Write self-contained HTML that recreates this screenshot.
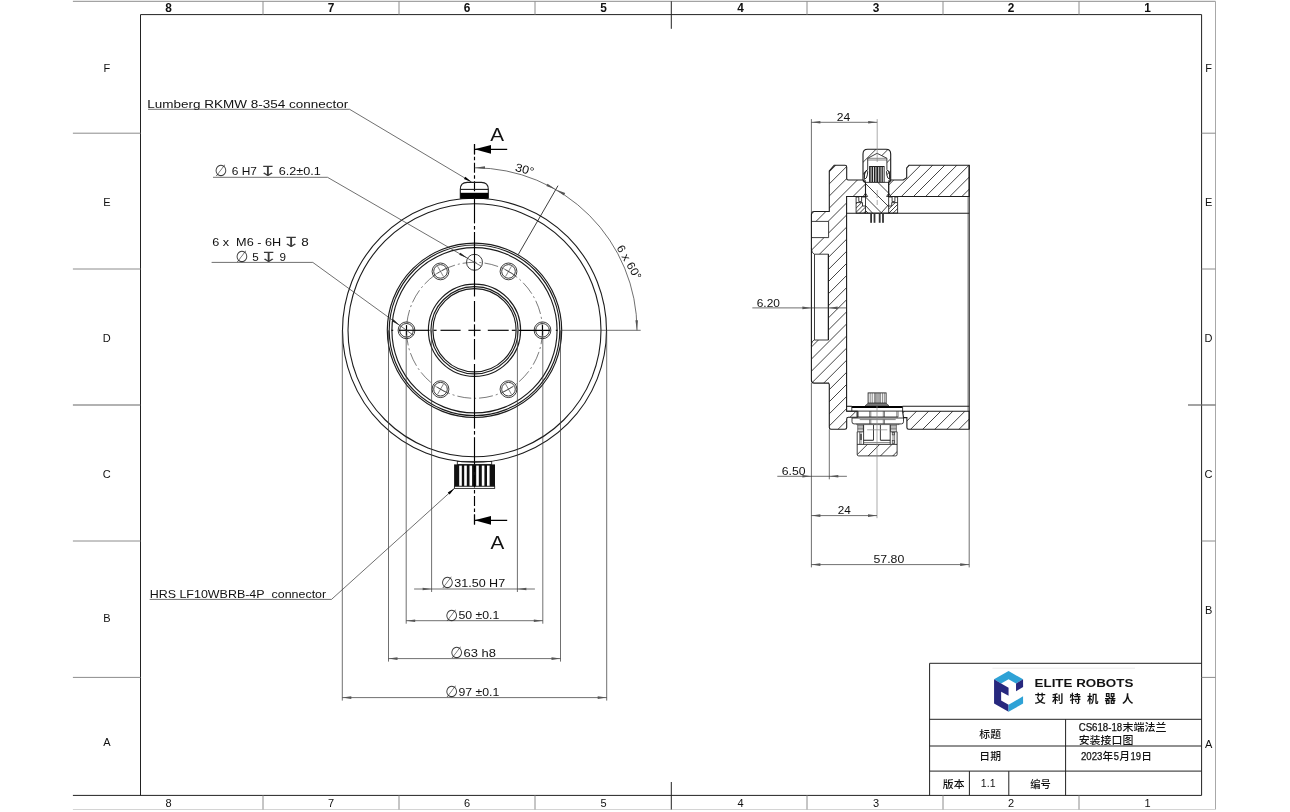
<!DOCTYPE html>
<html><head><meta charset="utf-8"><title>CS618-18 flange interface drawing</title>
<style>
html,body{margin:0;padding:0;background:#fff;}
svg{display:block;will-change:transform}
.v{stroke:#1c1c1c;stroke-width:1.1;fill:none}
.v8{stroke:#1c1c1c;stroke-width:.85;fill:none}
.t{stroke:#333;stroke-width:.6;fill:none}
.d{stroke:#383838;stroke-width:.72;fill:none}
.c{stroke:#000;stroke-width:1.15;fill:none}
.cl{stroke:#222;stroke-width:.6;fill:none}
.g{stroke:#8c8c8c;stroke-width:1;fill:none}
.gr{stroke:#a8a8a8;stroke-width:1;fill:none}
.g2{stroke:#666;stroke-width:1.2;fill:none}
.gl{stroke:#d4d4d4;stroke-width:1;fill:none}
.f{stroke:#222;stroke-width:1;fill:none}
.h{stroke:#222;stroke-width:.85;fill:none}
.gd{stroke:#888;stroke-width:.7;fill:none}
.vl{stroke:#e6e6e6;stroke-width:.8;fill:none}
.ah{fill:#555;stroke:none}
.ahd{fill:#222;stroke:none}
.vr{stroke:#1c1c1c;stroke-width:1.15;fill:none}
.ahk{fill:#000;stroke:none}
.tx{font-family:"Liberation Sans","DejaVu Sans","Noto Sans CJK SC",sans-serif;fill:#111}
.txb{font-family:"Liberation Sans","DejaVu Sans","Noto Sans CJK SC",sans-serif;fill:#111;font-weight:bold}
.sym{font-family:"DejaVu Sans","Liberation Sans",sans-serif;fill:#3a3a3a}
.cj{font-family:"Liberation Sans","Noto Sans CJK SC",sans-serif;fill:#111;font-weight:500}
</style></head>
<body>
<svg width="1290" height="812" viewBox="0 0 1290 812">
<rect width="1290" height="812" fill="#fff"/>
<line class="g" x1="72.90" y1="1.30" x2="1215.50" y2="1.30" />
<line class="gr" x1="1215.50" y1="1.30" x2="1215.50" y2="809.50" />
<line class="gl" x1="72.90" y1="809.50" x2="1215.50" y2="809.50" />
<line class="f" x1="140.50" y1="14.60" x2="1201.60" y2="14.60" />
<line class="f" x1="140.50" y1="14.60" x2="140.50" y2="795.40" />
<line class="f" x1="1201.60" y1="14.60" x2="1201.60" y2="795.40" />
<line class="f" x1="72.90" y1="795.40" x2="1201.60" y2="795.40" />
<line class="g" x1="263.00" y1="1.30" x2="263.00" y2="14.60" />
<line class="g" x1="263.00" y1="795.40" x2="263.00" y2="809.50" />
<line class="g" x1="399.00" y1="1.30" x2="399.00" y2="14.60" />
<line class="g" x1="399.00" y1="795.40" x2="399.00" y2="809.50" />
<line class="g" x1="535.00" y1="1.30" x2="535.00" y2="14.60" />
<line class="g" x1="535.00" y1="795.40" x2="535.00" y2="809.50" />
<line class="g" x1="807.00" y1="1.30" x2="807.00" y2="14.60" />
<line class="g" x1="807.00" y1="795.40" x2="807.00" y2="809.50" />
<line class="g" x1="943.00" y1="1.30" x2="943.00" y2="14.60" />
<line class="g" x1="943.00" y1="795.40" x2="943.00" y2="809.50" />
<line class="g" x1="1079.00" y1="1.30" x2="1079.00" y2="14.60" />
<line class="g" x1="1079.00" y1="795.40" x2="1079.00" y2="809.50" />
<line class="f" x1="671.30" y1="1.30" x2="671.30" y2="28.80" />
<line class="f" x1="671.30" y1="782.00" x2="671.30" y2="809.50" />
<line class="g" x1="72.90" y1="133.20" x2="140.50" y2="133.20" />
<line class="g" x1="1201.60" y1="133.20" x2="1215.50" y2="133.20" />
<line class="g" x1="72.90" y1="269.00" x2="140.50" y2="269.00" />
<line class="g" x1="1201.60" y1="269.00" x2="1215.50" y2="269.00" />
<line class="g" x1="72.90" y1="541.00" x2="140.50" y2="541.00" />
<line class="g" x1="1201.60" y1="541.00" x2="1215.50" y2="541.00" />
<line class="g" x1="72.90" y1="677.40" x2="140.50" y2="677.40" />
<line class="g" x1="1201.60" y1="677.40" x2="1215.50" y2="677.40" />
<line class="g2" x1="72.90" y1="405.00" x2="140.50" y2="405.00" />
<line class="g2" x1="1188.00" y1="405.00" x2="1215.50" y2="405.00" />
<text class="txb" x="165.2" y="11.8" font-size="13" textLength="6.6" lengthAdjust="spacingAndGlyphs">8</text>
<text class="tx" x="168.50" y="807.40" font-size="11" text-anchor="middle" >8</text>
<text class="txb" x="327.7" y="11.8" font-size="13" textLength="6.6" lengthAdjust="spacingAndGlyphs">7</text>
<text class="tx" x="331.00" y="807.40" font-size="11" text-anchor="middle" >7</text>
<text class="txb" x="463.7" y="11.8" font-size="13" textLength="6.6" lengthAdjust="spacingAndGlyphs">6</text>
<text class="tx" x="467.00" y="807.40" font-size="11" text-anchor="middle" >6</text>
<text class="txb" x="600.2" y="11.8" font-size="13" textLength="6.6" lengthAdjust="spacingAndGlyphs">5</text>
<text class="tx" x="603.50" y="807.40" font-size="11" text-anchor="middle" >5</text>
<text class="txb" x="737.2" y="11.8" font-size="13" textLength="6.6" lengthAdjust="spacingAndGlyphs">4</text>
<text class="tx" x="740.50" y="807.40" font-size="11" text-anchor="middle" >4</text>
<text class="txb" x="872.7" y="11.8" font-size="13" textLength="6.6" lengthAdjust="spacingAndGlyphs">3</text>
<text class="tx" x="876.00" y="807.40" font-size="11" text-anchor="middle" >3</text>
<text class="txb" x="1007.7" y="11.8" font-size="13" textLength="6.6" lengthAdjust="spacingAndGlyphs">2</text>
<text class="tx" x="1011.00" y="807.40" font-size="11" text-anchor="middle" >2</text>
<text class="txb" x="1144.2" y="11.8" font-size="13" textLength="6.6" lengthAdjust="spacingAndGlyphs">1</text>
<text class="tx" x="1147.50" y="807.40" font-size="11" text-anchor="middle" >1</text>
<text class="tx" x="106.80" y="72.00" font-size="11" text-anchor="middle" >F</text>
<text class="tx" x="1208.60" y="72.00" font-size="11" text-anchor="middle" >F</text>
<text class="tx" x="106.80" y="206.00" font-size="11" text-anchor="middle" >E</text>
<text class="tx" x="1208.60" y="206.00" font-size="11" text-anchor="middle" >E</text>
<text class="tx" x="106.80" y="342.00" font-size="11" text-anchor="middle" >D</text>
<text class="tx" x="1208.60" y="342.00" font-size="11" text-anchor="middle" >D</text>
<text class="tx" x="106.80" y="478.00" font-size="11" text-anchor="middle" >C</text>
<text class="tx" x="1208.60" y="478.00" font-size="11" text-anchor="middle" >C</text>
<text class="tx" x="106.80" y="622.00" font-size="11" text-anchor="middle" >B</text>
<text class="tx" x="1208.60" y="614.00" font-size="11" text-anchor="middle" >B</text>
<text class="tx" x="106.80" y="746.00" font-size="11" text-anchor="middle" >A</text>
<text class="tx" x="1208.60" y="748.00" font-size="11" text-anchor="middle" >A</text>
<circle class="v" cx="474.50" cy="330.30" r="132.00" />
<circle class="v" cx="474.50" cy="330.30" r="126.50" />
<circle class="vr" cx="474.50" cy="330.30" r="87.20" />
<circle class="vr" cx="474.50" cy="330.30" r="85.30" />
<circle class="vr" cx="474.50" cy="330.30" r="82.60" />
<circle class="vr" cx="474.50" cy="330.30" r="46.10" />
<circle class="vr" cx="474.50" cy="330.30" r="43.60" />
<circle class="vr" cx="474.50" cy="330.30" r="41.60" />
<circle class="cl" cx="474.50" cy="330.30" r="68.00" stroke-dasharray="14 3 2 3"/>
<circle class="v8" cx="542.50" cy="330.30" r="8.40" />
<circle class="v8" cx="542.50" cy="330.30" r="6.80" />
<circle class="v8" cx="508.50" cy="271.41" r="8.40" />
<circle class="v8" cx="508.50" cy="271.41" r="6.80" />
<line class="t" x1="505.50" y1="276.61" x2="511.50" y2="266.21" />
<line class="t" x1="503.30" y1="268.41" x2="513.70" y2="274.41" />
<circle class="v8" cx="440.50" cy="271.41" r="8.40" />
<circle class="v8" cx="440.50" cy="271.41" r="6.80" />
<line class="t" x1="443.50" y1="276.61" x2="437.50" y2="266.21" />
<line class="t" x1="435.30" y1="274.41" x2="445.70" y2="268.41" />
<circle class="v8" cx="406.50" cy="330.30" r="8.40" />
<circle class="v8" cx="406.50" cy="330.30" r="6.80" />
<circle class="v8" cx="440.50" cy="389.19" r="8.40" />
<circle class="v8" cx="440.50" cy="389.19" r="6.80" />
<line class="t" x1="443.50" y1="383.99" x2="437.50" y2="394.39" />
<line class="t" x1="445.70" y1="392.19" x2="435.30" y2="386.19" />
<circle class="v8" cx="508.50" cy="389.19" r="8.40" />
<circle class="v8" cx="508.50" cy="389.19" r="6.80" />
<line class="t" x1="505.50" y1="383.99" x2="511.50" y2="394.39" />
<line class="t" x1="513.70" y1="386.19" x2="503.30" y2="392.19" />
<circle class="v8" cx="474.50" cy="262.30" r="8.00" />
<line class="c" x1="391.50" y1="330.30" x2="393.20" y2="330.30" />
<line class="c" x1="398.70" y1="330.30" x2="429.60" y2="330.30" />
<line class="c" x1="433.50" y1="330.30" x2="436.60" y2="330.30" />
<line class="c" x1="440.50" y1="330.30" x2="460.60" y2="330.30" />
<line class="c" x1="468.40" y1="330.30" x2="480.60" y2="330.30" />
<line class="c" x1="487.80" y1="330.30" x2="508.70" y2="330.30" />
<line class="c" x1="511.80" y1="330.30" x2="515.70" y2="330.30" />
<line class="c" x1="518.80" y1="330.30" x2="550.30" y2="330.30" />
<line class="c" x1="555.80" y1="330.30" x2="557.50" y2="330.30" />
<line class="c" x1="406.50" y1="325.10" x2="406.50" y2="335.50" />
<line class="c" x1="542.50" y1="325.10" x2="542.50" y2="335.50" />
<line class="c" x1="474.50" y1="144.30" x2="474.50" y2="199.00" stroke-dasharray="10 2.5 3.5 2.5"/>
<line class="c" x1="474.50" y1="524.50" x2="474.50" y2="462.00" stroke-dasharray="10 2.5 3.5 2.5"/>
<line class="c" x1="474.50" y1="199.00" x2="474.50" y2="223.40" />
<line class="c" x1="474.50" y1="226.00" x2="474.50" y2="229.50" />
<line class="c" x1="474.50" y1="232.00" x2="474.50" y2="296.50" />
<line class="c" x1="474.50" y1="301.00" x2="474.50" y2="321.70" />
<line class="c" x1="474.50" y1="324.30" x2="474.50" y2="336.30" />
<line class="c" x1="474.50" y1="339.00" x2="474.50" y2="359.60" />
<line class="c" x1="474.50" y1="364.00" x2="474.50" y2="428.60" />
<line class="c" x1="474.50" y1="431.00" x2="474.50" y2="434.60" />
<line class="c" x1="474.50" y1="437.20" x2="474.50" y2="462.00" />
<path class="v" d="M460.3 198.6 V189.4 Q460.3 182.4 467.3 182.4 H481.3 Q488.3 182.4 488.3 189.4 V198.6" />
<line class="v" x1="460.30" y1="189.40" x2="488.30" y2="189.40" />
<rect x="460.3" y="192.8" width="28" height="6" fill="#000"/>
<rect class="v8" x="457.3" y="461.4" width="34.4" height="3" fill="#fff"/>
<rect x="454.1" y="464.4" width="40.9" height="22" fill="#111"/>
<rect x="459.2" y="465.6" width="2.6" height="20.8" fill="#fff"/>
<rect x="464.2" y="465.6" width="2.6" height="20.8" fill="#fff"/>
<rect x="469.5" y="465.6" width="2.6" height="20.8" fill="#fff"/>
<rect x="476.2" y="465.6" width="2.6" height="20.8" fill="#fff"/>
<rect x="481.8" y="465.6" width="2.6" height="20.8" fill="#fff"/>
<rect x="487" y="465.6" width="2.6" height="20.8" fill="#fff"/>
<rect class="v8" x="454.4" y="486.2" width="40.3" height="2.2" fill="#fff"/>
<line class="c" x1="474.50" y1="466.00" x2="474.50" y2="472.00" />
<line class="c" x1="474.50" y1="475.00" x2="474.50" y2="487.00" />
<line class="c" x1="474.50" y1="149.30" x2="507.20" y2="149.30" />
<polygon class="ahk" points="474.50,149.30 491.00,144.90 491.00,153.70"/>
<line class="c" x1="474.50" y1="520.30" x2="507.20" y2="520.30" />
<polygon class="ahk" points="474.50,520.30 491.00,515.90 491.00,524.70"/>
<line class="c" x1="474.50" y1="144.00" x2="474.50" y2="154.50" />
<line class="c" x1="474.50" y1="514.50" x2="474.50" y2="524.50" />
<text class="tx" x="490.30" y="140.80" font-size="19" text-anchor="start" textLength="13.8" lengthAdjust="spacingAndGlyphs" >A</text>
<text class="tx" x="490.50" y="549.00" font-size="19" text-anchor="start" textLength="13.8" lengthAdjust="spacingAndGlyphs" >A</text>
<path class="d" d="M474.50 167.80 A162.5 162.5 0 0 1 637.00 330.30" />
<line class="v8" x1="518.25" y1="254.52" x2="558.00" y2="185.67" />
<line class="d" x1="562.00" y1="330.30" x2="640.70" y2="330.30" />
<polygon class="ah" points="475.00,167.80 484.95,166.15 485.04,168.75"/>
<polygon class="ah" points="555.75,189.57 565.19,193.12 563.97,195.41"/>
<polygon class="ah" points="555.75,189.57 546.31,186.02 547.53,183.73"/>
<polygon class="ah" points="637.00,330.30 635.35,320.35 637.95,320.26"/>
<text class="tx" font-size="11.5" transform="translate(514.6,170.8) rotate(15)" textLength="19" lengthAdjust="spacingAndGlyphs">30°</text>
<text class="tx" font-size="11.5" transform="translate(616.2,247.8) rotate(60)" textLength="38" lengthAdjust="spacingAndGlyphs">6 x 60°</text>
<line class="d" x1="431.60" y1="330.30" x2="431.60" y2="592.00" />
<line class="d" x1="517.40" y1="330.30" x2="517.40" y2="592.00" />
<line class="d" x1="414.10" y1="589.00" x2="534.90" y2="589.00" />
<polygon class="ah" points="431.60,589.00 422.60,590.30 422.60,587.70"/>
<polygon class="ah" points="517.40,589.00 526.40,587.70 526.40,590.30"/>
<text class="sym" transform="translate(441.00,588.00) scale(0.92,1)" font-size="16">∅</text>
<text class="tx" x="454.20" y="586.60" font-size="11" text-anchor="start" textLength="51.0" lengthAdjust="spacingAndGlyphs" >31.50 H7</text>
<line class="d" x1="406.20" y1="330.30" x2="406.20" y2="623.70" />
<line class="d" x1="542.80" y1="330.30" x2="542.80" y2="623.70" />
<line class="d" x1="406.20" y1="620.70" x2="542.80" y2="620.70" />
<polygon class="ah" points="406.20,620.70 415.20,619.40 415.20,622.00"/>
<polygon class="ah" points="542.80,620.70 533.80,622.00 533.80,619.40"/>
<text class="sym" transform="translate(445.20,620.70) scale(0.92,1)" font-size="16">∅</text>
<text class="tx" x="458.40" y="619.30" font-size="11" text-anchor="start" textLength="40.9" lengthAdjust="spacingAndGlyphs" >50 ±0.1</text>
<line class="d" x1="388.50" y1="330.30" x2="388.50" y2="661.60" />
<line class="d" x1="560.50" y1="330.30" x2="560.50" y2="661.60" />
<line class="d" x1="388.50" y1="658.60" x2="560.50" y2="658.60" />
<polygon class="ah" points="388.50,658.60 397.50,657.30 397.50,659.90"/>
<polygon class="ah" points="560.50,658.60 551.50,659.90 551.50,657.30"/>
<text class="sym" transform="translate(450.30,658.00) scale(0.92,1)" font-size="16">∅</text>
<text class="tx" x="463.50" y="656.60" font-size="11" text-anchor="start" textLength="32.4" lengthAdjust="spacingAndGlyphs" >63 h8</text>
<line class="d" x1="342.30" y1="330.30" x2="342.30" y2="700.60" />
<line class="d" x1="606.70" y1="330.30" x2="606.70" y2="700.60" />
<line class="d" x1="342.30" y1="697.60" x2="606.70" y2="697.60" />
<polygon class="ah" points="342.30,697.60 351.30,696.30 351.30,698.90"/>
<polygon class="ah" points="606.70,697.60 597.70,698.90 597.70,696.30"/>
<text class="sym" transform="translate(445.20,697.30) scale(0.92,1)" font-size="16">∅</text>
<text class="tx" x="458.40" y="695.90" font-size="11" text-anchor="start" textLength="40.9" lengthAdjust="spacingAndGlyphs" >97 ±0.1</text>
<text class="tx" x="147.30" y="108.30" font-size="11.5" text-anchor="start" textLength="201.0" lengthAdjust="spacingAndGlyphs" >Lumberg RKMW 8-354 connector</text>
<path class="d" d="M148 109.3 H349.6 L471.5 182" />
<polygon class="ahk" points="471.50,182.00 463.91,179.10 465.35,176.70"/>
<text class="sym" transform="translate(214.60,176.10) scale(0.92,1)" font-size="16">∅</text>
<text class="tx" x="231.70" y="174.70" font-size="11.5" text-anchor="start" textLength="25.2" lengthAdjust="spacingAndGlyphs" >6 H7</text>
<text class="sym" transform="translate(258.40,175.70) scale(1.6,1)" font-size="14">↧</text>
<text class="tx" x="278.70" y="174.70" font-size="11.5" text-anchor="start" textLength="42.1" lengthAdjust="spacingAndGlyphs" >6.2±0.1</text>
<path class="d" d="M213 177.3 H327.5 L481.4 266.3" />
<polygon class="ahd" points="467.60,258.30 459.21,254.83 460.41,252.76"/>
<text class="tx" x="212.20" y="245.60" font-size="11.5" text-anchor="start" textLength="69.0" lengthAdjust="spacingAndGlyphs" >6 x&#160; M6 - 6H</text>
<text class="sym" transform="translate(281.80,246.60) scale(1.6,1)" font-size="14">↧</text>
<text class="tx" x="301.30" y="245.60" font-size="11.5" text-anchor="start" textLength="7.5" lengthAdjust="spacingAndGlyphs" >8</text>
<text class="sym" transform="translate(235.40,262.00) scale(0.92,1)" font-size="16">∅</text>
<text class="tx" x="252.20" y="260.60" font-size="11.5" text-anchor="start" textLength="6.5" lengthAdjust="spacingAndGlyphs" >5</text>
<text class="sym" transform="translate(259.20,261.60) scale(1.6,1)" font-size="14">↧</text>
<text class="tx" x="279.50" y="260.60" font-size="11.5" text-anchor="start" textLength="6.5" lengthAdjust="spacingAndGlyphs" >9</text>
<path class="d" d="M211.6 262.4 H312.8 L413.1 335.1" />
<polygon class="ahd" points="399.90,325.50 391.91,321.19 393.32,319.25"/>
<text class="tx" x="149.70" y="597.60" font-size="11.5" text-anchor="start" textLength="176.5" lengthAdjust="spacingAndGlyphs" >HRS LF10WBRB-4P&#160; connector</text>
<path class="d" d="M149.7 599.4 H331.5 L454.6 488.2" />
<polygon class="ahk" points="454.60,488.20 449.60,494.60 447.73,492.52"/>
<defs>
<clipPath id="cA"><path d="M811.4 214.4 Q811.4 211.5 814.3 211.5 H829.3 V170.9 L834.2 165.3 H845 Q846.7 165.3 846.7 167 V178.5 Q846.7 180 848.2 180 H862.9 L865.5 182.5 V196.5 H846.6 V411.2 H857.2 V417.3 H848.4 Q846.7 417.3 846.7 419 V427.6 Q846.7 429.3 845 429.3 H831 Q829.3 429.3 829.3 427.6 V384.6 L828.6 383.1 H814.3 Q811.4 383.1 811.4 380.2 Z"/></clipPath>
<clipPath id="cB"><path d="M888.7 196.5 V182.5 L890.8 180 H903.3 L906.7 177.8 V168 L909 165.3 H969.2 V196.5 Z"/></clipPath>
<clipPath id="cC"><path d="M902.6 411.2 H969.2 V429.3 H908.6 Q906.9 429.3 906.9 427.6 V417.6 H903.5 Z"/></clipPath>
<clipPath id="cCap"><path d="M863 180 V154 Q863 149.3 867.7 149.3 H886 Q890.7 149.3 890.7 154 V180 H886.9 V158.3 L877.1 153.3 L867.7 158.3 V180 Z"/></clipPath>
<clipPath id="cBody"><rect x="865.5" y="182.3" width="23.2" height="30.8"/></clipPath>
<clipPath id="cFl"><path d="M856.1 202.6 H862.5 V206 H865.5 V213.1 H856.1 Z M888.7 206 H891.7 V202.6 H897.6 V213.1 H888.7 Z"/></clipPath>
<clipPath id="cHb"><rect x="857.2" y="444.4" width="39.9" height="11.5"/></clipPath>
</defs>
<g clip-path="url(#cA)">
<line class="h" x1="808.00" y1="156.80" x2="868.00" y2="96.80" />
<line class="h" x1="808.00" y1="168.90" x2="868.00" y2="108.90" />
<line class="h" x1="808.00" y1="181.00" x2="868.00" y2="121.00" />
<line class="h" x1="808.00" y1="193.10" x2="868.00" y2="133.10" />
<line class="h" x1="808.00" y1="205.20" x2="868.00" y2="145.20" />
<line class="h" x1="808.00" y1="217.30" x2="868.00" y2="157.30" />
<line class="h" x1="808.00" y1="229.40" x2="868.00" y2="169.40" />
<line class="h" x1="808.00" y1="241.50" x2="868.00" y2="181.50" />
<line class="h" x1="808.00" y1="253.60" x2="868.00" y2="193.60" />
<line class="h" x1="808.00" y1="265.70" x2="868.00" y2="205.70" />
<line class="h" x1="808.00" y1="277.80" x2="868.00" y2="217.80" />
<line class="h" x1="808.00" y1="289.90" x2="868.00" y2="229.90" />
<line class="h" x1="808.00" y1="302.00" x2="868.00" y2="242.00" />
<line class="h" x1="808.00" y1="314.10" x2="868.00" y2="254.10" />
<line class="h" x1="808.00" y1="326.20" x2="868.00" y2="266.20" />
<line class="h" x1="808.00" y1="338.30" x2="868.00" y2="278.30" />
<line class="h" x1="808.00" y1="350.40" x2="868.00" y2="290.40" />
<line class="h" x1="808.00" y1="362.50" x2="868.00" y2="302.50" />
<line class="h" x1="808.00" y1="374.60" x2="868.00" y2="314.60" />
<line class="h" x1="808.00" y1="386.70" x2="868.00" y2="326.70" />
<line class="h" x1="808.00" y1="398.80" x2="868.00" y2="338.80" />
<line class="h" x1="808.00" y1="410.90" x2="868.00" y2="350.90" />
<line class="h" x1="808.00" y1="423.00" x2="868.00" y2="363.00" />
<line class="h" x1="808.00" y1="435.10" x2="868.00" y2="375.10" />
<line class="h" x1="808.00" y1="447.20" x2="868.00" y2="387.20" />
<line class="h" x1="808.00" y1="459.30" x2="868.00" y2="399.30" />
<line class="h" x1="808.00" y1="471.40" x2="868.00" y2="411.40" />
<line class="h" x1="808.00" y1="483.50" x2="868.00" y2="423.50" />
<line class="h" x1="808.00" y1="495.60" x2="868.00" y2="435.60" />
</g>
<g clip-path="url(#cB)">
<line class="h" x1="885.00" y1="152.40" x2="972.00" y2="65.40" />
<line class="h" x1="885.00" y1="164.50" x2="972.00" y2="77.50" />
<line class="h" x1="885.00" y1="176.60" x2="972.00" y2="89.60" />
<line class="h" x1="885.00" y1="188.70" x2="972.00" y2="101.70" />
<line class="h" x1="885.00" y1="200.80" x2="972.00" y2="113.80" />
<line class="h" x1="885.00" y1="212.90" x2="972.00" y2="125.90" />
<line class="h" x1="885.00" y1="225.00" x2="972.00" y2="138.00" />
<line class="h" x1="885.00" y1="237.10" x2="972.00" y2="150.10" />
<line class="h" x1="885.00" y1="249.20" x2="972.00" y2="162.20" />
<line class="h" x1="885.00" y1="261.30" x2="972.00" y2="174.30" />
<line class="h" x1="885.00" y1="273.40" x2="972.00" y2="186.40" />
<line class="h" x1="885.00" y1="285.50" x2="972.00" y2="198.50" />
<line class="h" x1="885.00" y1="297.60" x2="972.00" y2="210.60" />
</g>
<g clip-path="url(#cC)">
<line class="h" x1="900.00" y1="403.60" x2="972.00" y2="331.60" />
<line class="h" x1="900.00" y1="415.70" x2="972.00" y2="343.70" />
<line class="h" x1="900.00" y1="427.80" x2="972.00" y2="355.80" />
<line class="h" x1="900.00" y1="439.90" x2="972.00" y2="367.90" />
<line class="h" x1="900.00" y1="452.00" x2="972.00" y2="380.00" />
<line class="h" x1="900.00" y1="464.10" x2="972.00" y2="392.10" />
<line class="h" x1="900.00" y1="476.20" x2="972.00" y2="404.20" />
<line class="h" x1="900.00" y1="488.30" x2="972.00" y2="416.30" />
<line class="h" x1="900.00" y1="500.40" x2="972.00" y2="428.40" />
<line class="h" x1="900.00" y1="512.50" x2="972.00" y2="440.50" />
</g>
<path d="M811.4 248.6 Q811.6 253.4 814.4 254.2 H828.5 V340 H814.4 Q811.6 340.8 811.4 345.6 Z" fill="#fff" stroke="none"/>
<rect x="811.4" y="221.4" width="17.2" height="16.2" fill="#fff"/>
<path class="v" d="M811.4 214.4 Q811.4 211.5 814.3 211.5 H829.3 V170.9 L834.2 165.3 H845 Q846.7 165.3 846.7 167 V178.5 Q846.7 180 848.2 180 H862.9 L865.5 182.5 V196.5 H846.6 V411.2 H857.2 V417.3 H848.4 Q846.7 417.3 846.7 419 V427.6 Q846.7 429.3 845 429.3 H831 Q829.3 429.3 829.3 427.6 V384.6 L828.6 383.1 H814.3 Q811.4 383.1 811.4 380.2 Z" />
<path class="v" d="M888.7 196.5 V182.5 L890.8 180 H903.3 L906.7 177.8 V168 L909 165.3 H969.2 V196.5 Z" />
<path class="v" d="M902.6 411.2 H969.2 V429.3 H908.6 Q906.9 429.3 906.9 427.6 V417.6 H903.5 Z" />
<path class="v8" d="M811.4 248.6 Q811.6 253.4 814.4 254.2 H828.5 V340 H814.4 Q811.6 340.8 811.4 345.6" />
<line class="v8" x1="814.50" y1="254.20" x2="814.50" y2="340.00" />
<line class="v" x1="828.30" y1="254.20" x2="828.30" y2="340.00" />
<path class="v8" d="M811.4 221.4 H828.6 V237.6 H811.4" />
<line class="v" x1="846.60" y1="213.30" x2="969.20" y2="213.30" />
<line class="v" x1="846.60" y1="406.30" x2="851.80" y2="406.30" />
<line class="v" x1="902.60" y1="406.30" x2="969.20" y2="406.30" />
<line class="v8" x1="846.60" y1="196.50" x2="856.00" y2="196.50" />
<line class="v" x1="969.20" y1="165.30" x2="969.20" y2="429.30" />
<line class="t" x1="968.00" y1="196.50" x2="968.00" y2="411.20" />
<g clip-path="url(#cCap)">
<line class="h" x1="860.00" y1="141.10" x2="893.00" y2="108.10" />
<line class="h" x1="860.00" y1="153.20" x2="893.00" y2="120.20" />
<line class="h" x1="860.00" y1="165.30" x2="893.00" y2="132.30" />
<line class="h" x1="860.00" y1="177.40" x2="893.00" y2="144.40" />
<line class="h" x1="860.00" y1="189.50" x2="893.00" y2="156.50" />
<line class="h" x1="860.00" y1="201.60" x2="893.00" y2="168.60" />
<line class="h" x1="860.00" y1="213.70" x2="893.00" y2="180.70" />
<line class="h" x1="860.00" y1="225.80" x2="893.00" y2="192.80" />
</g>
<path class="v" d="M863 180 V154 Q863 149.3 867.7 149.3 H886 Q890.7 149.3 890.7 154 V180" />
<path class="v8" d="M867.7 169.5 V158.3 L877.1 153.3 L886.9 158.3 V169.5" />
<line class="t" x1="867.70" y1="158.30" x2="886.90" y2="158.30" />
<line class="t" x1="867.70" y1="160.00" x2="886.90" y2="160.00" />
<path class="v8" d="M867.7 169.5 L864.4 172.3 V179.5 M886.9 169.5 L889.6 172.3 V179.5" />
<ellipse class="v8" cx="866" cy="174.6" rx="1.4" ry="4.3" transform="rotate(12 866 174.6)"/>
<ellipse class="v8" cx="888.2" cy="174.6" rx="1.4" ry="4.3" transform="rotate(-12 888.2 174.6)"/>
<circle class="v8" cx="864.3" cy="181" r="1.1"/><circle class="v8" cx="889.8" cy="181" r="1.1"/>
<rect x="869.1" y="166" width="15.5" height="16.3" fill="#222"/>
<rect x="870.6" y="167" width="1.0" height="15" fill="#ddd"/>
<rect x="873.0" y="167" width="1.0" height="15" fill="#ddd"/>
<rect x="875.4" y="167" width="1.0" height="15" fill="#ddd"/>
<rect x="878.2" y="167" width="1.0" height="15" fill="#ddd"/>
<rect x="880.6" y="167" width="1.0" height="15" fill="#ddd"/>
<rect x="882.8" y="167" width="1.0" height="15" fill="#ddd"/>
<g clip-path="url(#cBody)">
<line class="h" x1="862.00" y1="220.50" x2="892.00" y2="250.50" />
<line class="h" x1="862.00" y1="207.00" x2="892.00" y2="237.00" />
<line class="h" x1="862.00" y1="193.50" x2="892.00" y2="223.50" />
<line class="h" x1="862.00" y1="180.00" x2="892.00" y2="210.00" />
<line class="h" x1="862.00" y1="166.50" x2="892.00" y2="196.50" />
<line class="h" x1="862.00" y1="153.00" x2="892.00" y2="183.00" />
<line class="h" x1="862.00" y1="139.50" x2="892.00" y2="169.50" />
</g>
<rect class="v8" x="865.5" y="182.3" width="23.2" height="30.8"/>
<path class="h" d="M865.5 205.5 L872.5 213.1 M888.7 204.5 L881 213.1" />
<path class="v8" d="M863.2 180 L865.5 182.5 M890.7 180 L888.7 182.5" />
<path class="v8" d="M865.5 193.2 L863.2 196.5 H867.6 Z M888.7 193.2 L886.6 196.5 H891 Z" fill="#fff"/>
<g clip-path="url(#cFl)">
<line class="h" x1="854.00" y1="197.60" x2="900.00" y2="151.60" />
<line class="h" x1="854.00" y1="201.80" x2="900.00" y2="155.80" />
<line class="h" x1="854.00" y1="206.00" x2="900.00" y2="160.00" />
<line class="h" x1="854.00" y1="210.20" x2="900.00" y2="164.20" />
<line class="h" x1="854.00" y1="214.40" x2="900.00" y2="168.40" />
<line class="h" x1="854.00" y1="218.60" x2="900.00" y2="172.60" />
<line class="h" x1="854.00" y1="222.80" x2="900.00" y2="176.80" />
<line class="h" x1="854.00" y1="227.00" x2="900.00" y2="181.00" />
<line class="h" x1="854.00" y1="231.20" x2="900.00" y2="185.20" />
<line class="h" x1="854.00" y1="235.40" x2="900.00" y2="189.40" />
<line class="h" x1="854.00" y1="239.60" x2="900.00" y2="193.60" />
<line class="h" x1="854.00" y1="243.80" x2="900.00" y2="197.80" />
<line class="h" x1="854.00" y1="248.00" x2="900.00" y2="202.00" />
<line class="h" x1="854.00" y1="252.20" x2="900.00" y2="206.20" />
<line class="h" x1="854.00" y1="256.40" x2="900.00" y2="210.40" />
<line class="h" x1="854.00" y1="260.60" x2="900.00" y2="214.60" />
<line class="h" x1="854.00" y1="264.80" x2="900.00" y2="218.80" />
</g>
<path class="v8" d="M856.1 213.1 V197 H858.8 M861.6 197 H865.5 M858.8 197 V201.6 H861.6 V197 M856.1 202.6 H862.5 V206 H865.5" />
<path class="v8" d="M897.6 213.1 V197 H894.9 M892.1 197 H888.7 M894.9 197 V201.6 H892.1 V197 M897.6 202.6 H891.7 V206 H888.7" />
<line class="v8" x1="856.10" y1="213.10" x2="865.50" y2="213.10" />
<line class="v8" x1="888.70" y1="213.10" x2="897.60" y2="213.10" />
<rect x="870.2" y="213.3" width="1.8" height="9.5" fill="#333"/>
<rect x="873.6" y="213.3" width="1.8" height="9.5" fill="#333"/>
<rect x="878.8" y="213.3" width="1.8" height="9.5" fill="#333"/>
<rect x="882.1" y="213.3" width="1.8" height="9.5" fill="#333"/>
<rect x="868.1" y="392.9" width="18" height="10.3" fill="#fff" class="v8"/>
<line class="t" x1="870.20" y1="393.00" x2="870.20" y2="403.00" />
<line class="t" x1="872.20" y1="393.00" x2="872.20" y2="403.00" />
<line class="t" x1="874.40" y1="393.00" x2="874.40" y2="403.00" />
<line class="t" x1="875.60" y1="393.00" x2="875.60" y2="403.00" />
<line class="t" x1="876.80" y1="393.00" x2="876.80" y2="403.00" />
<line class="t" x1="878.00" y1="393.00" x2="878.00" y2="403.00" />
<line class="t" x1="879.20" y1="393.00" x2="879.20" y2="403.00" />
<line class="t" x1="880.40" y1="393.00" x2="880.40" y2="403.00" />
<line class="t" x1="882.40" y1="393.00" x2="882.40" y2="403.00" />
<line class="t" x1="884.30" y1="393.00" x2="884.30" y2="403.00" />
<path d="M868.1 403.2 H886.1 L889 405.8 H865.1 Z" fill="#777" stroke="#222" stroke-width=".6"/>
<rect x="851.8" y="406.0" width="50.8" height="2.0" fill="#000"/>
<path class="v8" d="M851.8 406 V411.1 H902.6 V406" />
<line class="v8" x1="846.60" y1="411.20" x2="851.80" y2="411.20" />
<path class="t" d="M857.2 411.1 V417 M898.1 411.1 V417 M858.3 411.1 V417 M896.8 411.1 V417" />
<line class="t" x1="869.60" y1="411.10" x2="869.60" y2="417.00" />
<line class="t" x1="870.80" y1="411.10" x2="870.80" y2="417.00" />
<line class="t" x1="883.30" y1="411.10" x2="883.30" y2="417.00" />
<line class="t" x1="884.50" y1="411.10" x2="884.50" y2="417.00" />
<line class="v8" x1="857.20" y1="417.00" x2="898.10" y2="417.00" />
<path class="v8" d="M852 418 H903.5 V421.8 Q903.5 423.9 901.4 423.9 H854.1 Q852 423.9 852 421.8 Z" fill="#fff"/>
<line class="t" x1="859.70" y1="419.60" x2="895.70" y2="419.60" />
<path class="t" d="M856.7 423.9 V424.6 H899.1 V423.9" />
<line class="t" x1="869.60" y1="419.60" x2="869.60" y2="423.90" />
<line class="t" x1="870.80" y1="419.60" x2="870.80" y2="423.90" />
<line class="t" x1="883.30" y1="419.60" x2="883.30" y2="423.90" />
<line class="t" x1="884.50" y1="419.60" x2="884.50" y2="423.90" />
<line class="t" x1="857.70" y1="425.60" x2="863.20" y2="425.60" />
<line class="t" x1="890.60" y1="425.60" x2="896.40" y2="425.60" />
<line class="t" x1="857.70" y1="427.00" x2="863.20" y2="427.00" />
<line class="t" x1="890.60" y1="427.00" x2="896.40" y2="427.00" />
<line class="t" x1="857.70" y1="428.40" x2="863.20" y2="428.40" />
<line class="t" x1="890.60" y1="428.40" x2="896.40" y2="428.40" />
<line class="t" x1="857.70" y1="429.80" x2="863.20" y2="429.80" />
<line class="t" x1="890.60" y1="429.80" x2="896.40" y2="429.80" />
<path class="t" d="M857.7 424.6 V431.5 M863.4 424.6 V431.5 M890.4 424.6 V431.5 M896.4 424.6 V431.5" />
<path class="v8" d="M857.2 431.8 H863.4 M890.4 431.8 H897.1 M857.2 431.8 V454.4 Q857.2 455.9 858.7 455.9 H895.6 Q897.1 455.9 897.1 454.4 V431.8" />
<g clip-path="url(#cHb)">
<line class="h" x1="855.00" y1="432.20" x2="899.00" y2="388.20" />
<line class="h" x1="855.00" y1="444.50" x2="899.00" y2="400.50" />
<line class="h" x1="855.00" y1="456.80" x2="899.00" y2="412.80" />
<line class="h" x1="855.00" y1="469.10" x2="899.00" y2="425.10" />
<line class="h" x1="855.00" y1="481.40" x2="899.00" y2="437.40" />
<line class="h" x1="855.00" y1="493.70" x2="899.00" y2="449.70" />
<line class="h" x1="855.00" y1="506.00" x2="899.00" y2="462.00" />
</g>
<line class="v8" x1="857.20" y1="444.40" x2="897.10" y2="444.40" />
<path class="v8" d="M863.6 425 V444.2 M890.2 425 V444.2 M873.5 425 V440.2 M880.4 425 V440.2" />
<path class="v" d="M863.6 440.2 H873.5 M880.4 440.2 H890.2" />
<line class="t" x1="863.60" y1="442.60" x2="890.20" y2="442.60" />
<path class="t" d="M859.6 431.8 V444.2 M861 431.8 V444.2 M893 431.8 V444.2 M894.6 431.8 V444.2" />
<rect x="860.2" y="434" width="1.6" height="6" fill="#444"/><rect x="892.2" y="432.5" width="2.4" height="2.4" fill="none" class="t"/><rect x="892.2" y="440.5" width="2.2" height="3" fill="none" class="t"/>
<line class="gd" x1="867.10" y1="429.80" x2="887.30" y2="429.80" />
<line class="gd" x1="877.20" y1="119.10" x2="877.20" y2="162.00" />
<line class="gd" x1="877.20" y1="190.00" x2="877.20" y2="205.00" stroke-dasharray="8 2"/>
<line class="gd" x1="877.00" y1="406.00" x2="877.00" y2="518.20" />
<line class="d" x1="811.40" y1="119.10" x2="811.40" y2="214.00" />
<line class="d" x1="811.40" y1="383.00" x2="811.40" y2="567.40" />
<line class="d" x1="829.30" y1="429.30" x2="829.30" y2="479.30" />
<line class="d" x1="969.20" y1="429.30" x2="969.20" y2="567.40" />
<line class="d" x1="811.40" y1="122.30" x2="877.20" y2="122.30" />
<polygon class="ah" points="811.40,122.30 820.40,121.00 820.40,123.60"/>
<polygon class="ah" points="877.20,122.30 868.20,123.60 868.20,121.00"/>
<text class="tx" x="836.70" y="120.90" font-size="10.8" text-anchor="start" textLength="13.5" lengthAdjust="spacingAndGlyphs" >24</text>
<line class="d" x1="811.40" y1="515.60" x2="877.00" y2="515.60" />
<polygon class="ah" points="811.40,515.60 820.40,514.30 820.40,516.90"/>
<polygon class="ah" points="877.00,515.60 868.00,516.90 868.00,514.30"/>
<text class="tx" x="837.80" y="513.60" font-size="10.8" text-anchor="start" textLength="13.1" lengthAdjust="spacingAndGlyphs" >24</text>
<line class="d" x1="811.40" y1="564.60" x2="969.20" y2="564.60" />
<polygon class="ah" points="811.40,564.60 820.40,563.30 820.40,565.90"/>
<polygon class="ah" points="969.20,564.60 960.20,565.90 960.20,563.30"/>
<text class="tx" x="873.50" y="562.60" font-size="10.8" text-anchor="start" textLength="30.8" lengthAdjust="spacingAndGlyphs" >57.80</text>
<line class="d" x1="777.30" y1="476.30" x2="846.90" y2="476.30" />
<polygon class="ah" points="811.40,476.30 802.40,477.60 802.40,475.00"/>
<polygon class="ah" points="829.30,476.30 838.30,475.00 838.30,477.60"/>
<text class="tx" x="781.70" y="474.90" font-size="10.8" text-anchor="start" textLength="23.8" lengthAdjust="spacingAndGlyphs" >6.50</text>
<line class="d" x1="752.30" y1="307.90" x2="846.40" y2="307.90" />
<polygon class="ah" points="811.40,307.90 802.40,309.20 802.40,306.60"/>
<polygon class="ah" points="828.60,307.90 837.60,306.60 837.60,309.20"/>
<text class="tx" x="756.70" y="306.60" font-size="10.8" text-anchor="start" textLength="23.2" lengthAdjust="spacingAndGlyphs" >6.20</text>
<line class="f" x1="929.60" y1="663.30" x2="1201.60" y2="663.30" />
<line class="f" x1="929.60" y1="663.30" x2="929.60" y2="795.40" />
<line class="f" x1="929.60" y1="719.30" x2="1201.60" y2="719.30" />
<line class="f" x1="929.60" y1="746.00" x2="1201.60" y2="746.00" />
<line class="f" x1="929.60" y1="771.10" x2="1201.60" y2="771.10" />
<line class="f" x1="1065.60" y1="719.30" x2="1065.60" y2="795.40" />
<line class="f" x1="969.40" y1="771.10" x2="969.40" y2="795.40" />
<line class="f" x1="1008.80" y1="771.10" x2="1008.80" y2="795.40" />
<line class="vl" x1="992.40" y1="668.20" x2="1135.00" y2="668.20" />
<polygon points="994.06,679.37 1008.57,670.93 1023.09,679.37 1016.02,683.59 1008.57,679.37 1001.13,683.59" fill="#2ea2d6"/>
<polygon points="994.06,679.37 1001.13,683.59 1008.57,687.68 1008.57,695.75 1001.13,691.78 1001.13,700.46 1008.57,704.80 1008.57,711.63 994.06,703.56" fill="#27287e"/>
<polygon points="1016.02,683.59 1023.09,679.37 1023.09,687.06 1016.02,691.28" fill="#27287e"/>
<polygon points="1008.57,704.80 1023.09,696.24 1023.09,703.56 1008.57,711.63" fill="#2ea2d6"/>
<text class="tx" x="1034.6" y="686.8" font-size="10.2" font-weight="bold" textLength="98.7" lengthAdjust="spacingAndGlyphs">ELITE ROBOTS</text>
<text class="cj" x="1034.4 1051.9 1069.4 1086.9 1104.4 1121.9" y="702.6" font-size="11.4" style="font-weight:700">艾利特机器人</text>
<text class="cj" x="979.30" y="737.80" font-size="10.7" textLength="21.7" lengthAdjust="spacingAndGlyphs" >标题</text>
<text class="cj" x="979.30" y="760.10" font-size="10.7" textLength="21.7" lengthAdjust="spacingAndGlyphs" >日期</text>
<text class="cj" x="942.80" y="787.60" font-size="10.7" textLength="21.7" lengthAdjust="spacingAndGlyphs" >版本</text>
<text class="cj" x="1030.30" y="787.60" font-size="10.7" textLength="20.6" lengthAdjust="spacingAndGlyphs" >编号</text>
<text class="tx" x="980.8" y="787.3" font-size="10.5" textLength="14.7" lengthAdjust="spacing">1.1</text>
<text class="tx" x="1078.7" y="730.8" font-size="10.8" stroke="#111" stroke-width=".25" textLength="43.5" lengthAdjust="spacingAndGlyphs">CS618-18</text>
<text class="cj" x="1122.60" y="730.90" font-size="10.7" textLength="44.0" lengthAdjust="spacingAndGlyphs" >末端法兰</text>
<text class="cj" x="1078.70" y="743.60" font-size="10.7" textLength="54.7" lengthAdjust="spacingAndGlyphs" >安装接口图</text>
<text class="tx" x="1080.9" y="760.0" font-size="10.8" stroke="#111" stroke-width=".25" textLength="21.5" lengthAdjust="spacingAndGlyphs">2023</text>
<text class="cj" x="1102.60" y="760.10" font-size="10.7" >年</text>
<text class="tx" x="1113.8" y="760.0" font-size="10.8" stroke="#111" stroke-width=".25" textLength="5.2" lengthAdjust="spacingAndGlyphs">5</text>
<text class="cj" x="1119.20" y="760.10" font-size="10.7" >月</text>
<text class="tx" x="1130.4" y="760.0" font-size="10.8" stroke="#111" stroke-width=".25" textLength="10.6" lengthAdjust="spacingAndGlyphs">19</text>
<text class="cj" x="1141.20" y="760.10" font-size="10.7" >日</text>
</svg>
</body></html>
